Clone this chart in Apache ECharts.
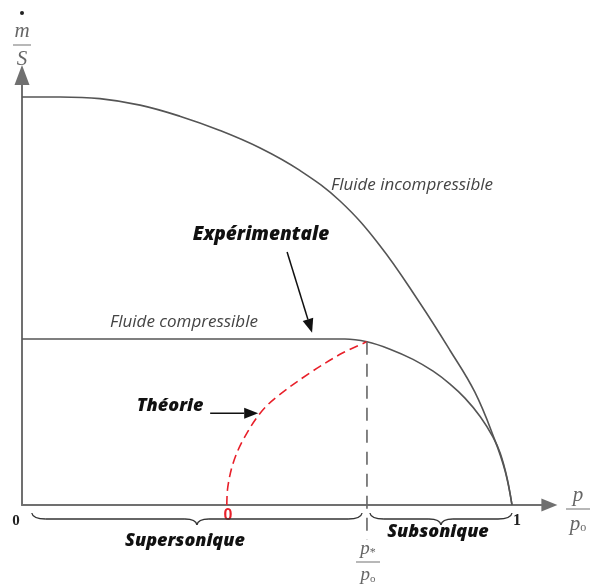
<!DOCTYPE html>
<html>
<head>
<meta charset="utf-8">
<script src="https://cdn.jsdelivr.net/npm/echarts@6/dist/echarts.min.js"></script>
<style>
  html, body { margin: 0; padding: 0; background: #fff; }
  #chart { width: 593px; height: 585px; }
</style>
</head>
<body>
<div id="chart"></div>
<script>
// Mass flux per unit area (m/S) versus pressure ratio p/p0, peak of the
// incompressible curve taken as 1.
const incompX = [0, 0.078, 0.159, 0.241, 0.322, 0.404, 0.486, 0.567, 0.649, 0.731, 0.812, 0.873, 0.924, 0.965, 0.986, 1.0];
const incompY = [1.0, 1.0, 0.996, 0.98, 0.953, 0.918, 0.875, 0.82, 0.745, 0.635, 0.495, 0.38, 0.277, 0.159, 0.083, 0];

// Measured (compressible) flow: choked plateau, then the subsonic branch
const compX = [0, 0.571, 0.659, 0.704, 0.751, 0.798, 0.839, 0.873, 0.904, 0.935, 0.961, 0.976, 0.99, 1.0];
const compY = [0.407, 0.407, 0.407, 0.4, 0.382, 0.357, 0.328, 0.297, 0.262, 0.217, 0.167, 0.127, 0.066, 0];

// Theoretical branch below the critical ratio
const theoryX = [0.418, 0.42, 0.431, 0.451, 0.486, 0.52, 0.588, 0.655, 0.704];
const theoryY = [0, 0.044, 0.103, 0.159, 0.225, 0.265, 0.324, 0.373, 0.4];

const criticalRatio = 0.704;     // p*/p0
const criticalFlow = 0.4;
const criticalLineBottom = -0.086;

// Braces under the axis: [from, to]
const braceRanges = [[0.02, 0.694], [0.71, 1.0]];

// Pointer arrows: [x from, y from, x to, y to]
const pointerArrows = [
  [0.541, 0.62, 0.592, 0.422],
  [0.384, 0.225, 0.482, 0.225]
];

const pair = (xs, ys) => xs.map((x, i) => [x, ys[i]]);

const chart = echarts.init(document.getElementById('chart'));

const curveColor = '#555';
const axisColor = '#707070';
const boldFont = 'italic 800 18px "Open Sans"';
const grayFont = 'italic 17px "Open Sans"';

const option = {
  animation: false,
  grid: { left: 22, top: 85, right: 51.6, bottom: 80 },
  xAxis: {
    type: 'value', min: 0, max: 1.06,
    splitLine: { show: false }, axisTick: { show: false }, axisLabel: { show: false },
    axisLine: {
      show: true, onZero: false,
      symbol: ['none', 'triangle'], symbolSize: [13, 16], symbolOffset: [0, 8],
      lineStyle: { color: axisColor, width: 2 }
    }
  },
  yAxis: {
    type: 'value', min: 0, max: 1.0294,
    splitLine: { show: false }, axisTick: { show: false }, axisLabel: { show: false },
    axisLine: {
      show: true, onZero: false,
      symbol: ['none', 'triangle'], symbolSize: [15, 20], symbolOffset: [0, 10],
      lineStyle: { color: axisColor, width: 2 }
    }
  },
  series: [
    {
      name: 'Fluide incompressible', type: 'line', data: pair(incompX, incompY),
      smooth: 0.4, symbol: 'none',
      lineStyle: { color: curveColor, width: 1.6 }
    },
    {
      name: 'Fluide compressible', type: 'line', data: pair(compX, compY),
      smooth: 0.35, symbol: 'none',
      lineStyle: { color: curveColor, width: 1.6 }
    },
    {
      name: 'Théorie', type: 'line', data: pair(theoryX, theoryY),
      smooth: 0.35, symbol: 'none',
      lineStyle: { color: '#e8202a', width: 1.6, type: [9, 5] }
    },
    {
      name: 'p*/p0', type: 'line', clip: false,
      data: [[criticalRatio, criticalFlow], [criticalRatio, criticalLineBottom]],
      symbol: 'none',
      lineStyle: { color: '#666', width: 1.6, type: [13, 9] }
    },
    {
      // curly braces below the axis
      type: 'custom', clip: false, silent: true,
      data: braceRanges,
      encode: { x: [0, 1] },
      renderItem: function (params, api) {
        const a = api.coord([api.value(0), 0]);
        const b = api.coord([api.value(1), 0]);
        const top = a[1] + 8, flat = a[1] + 14, tip = a[1] + 20;
        const mid = (a[0] + b[0]) / 2;
        const st = { stroke: '#333', fill: null, lineWidth: 1.3 };
        return {
          type: 'group',
          children: [
            { type: 'bezierCurve', shape: { x1: a[0], y1: top, cpx1: a[0] + 1, cpy1: flat, x2: a[0] + 14, y2: flat }, style: st },
            { type: 'line', shape: { x1: a[0] + 14, y1: flat, x2: mid - 12, y2: flat }, style: st },
            { type: 'bezierCurve', shape: { x1: mid - 12, y1: flat, cpx1: mid - 1, cpy1: flat, x2: mid, y2: tip }, style: st },
            { type: 'bezierCurve', shape: { x1: mid, y1: tip, cpx1: mid + 1, cpy1: flat, x2: mid + 12, y2: flat }, style: st },
            { type: 'line', shape: { x1: mid + 12, y1: flat, x2: b[0] - 14, y2: flat }, style: st },
            { type: 'bezierCurve', shape: { x1: b[0] - 14, y1: flat, cpx1: b[0] - 1, cpy1: flat, x2: b[0], y2: top }, style: st }
          ]
        };
      }
    },
    {
      // pointer arrows for the annotations
      type: 'custom', clip: false, silent: true,
      data: pointerArrows,
      encode: { x: [0, 2], y: [1, 3] },
      renderItem: function (params, api) {
        const p1 = api.coord([api.value(0), api.value(1)]);
        const p2 = api.coord([api.value(2), api.value(3)]);
        const dx = p2[0] - p1[0], dy = p2[1] - p1[1];
        const len = Math.sqrt(dx * dx + dy * dy);
        const ux = dx / len, uy = dy / len;
        const hl = 14, hw = 5.5;
        const bx = p2[0] - ux * hl, by = p2[1] - uy * hl;
        return {
          type: 'group',
          children: [
            { type: 'line', shape: { x1: p1[0], y1: p1[1], x2: bx, y2: by }, style: { stroke: '#111', lineWidth: 1.5 } },
            { type: 'polygon', shape: { points: [[p2[0], p2[1]], [bx - uy * hw, by + ux * hw], [bx + uy * hw, by - ux * hw]] }, style: { fill: '#111' } }
          ]
        };
      }
    }
  ],
  graphic: [
    // m-dot / S on the vertical axis
    { type: 'circle', shape: { cx: 22, cy: 13, r: 2 }, style: { fill: '#222' } },
    { type: 'text', x: 22, y: 31, style: { text: 'm', font: 'italic 21px "Liberation Serif"', fill: '#666', align: 'center', verticalAlign: 'middle' } },
    { type: 'line', shape: { x1: 13, y1: 45, x2: 31, y2: 45 }, style: { stroke: '#888', lineWidth: 1.2 } },
    { type: 'text', x: 22, y: 59, style: { text: 'S', font: 'italic 21px "Liberation Serif"', fill: '#666', align: 'center', verticalAlign: 'middle' } },

    // p / p0 on the horizontal axis
    { type: 'text', x: 578, y: 495, style: { text: 'p', font: 'italic 21px "Liberation Serif"', fill: '#666', align: 'center', verticalAlign: 'middle' } },
    { type: 'line', shape: { x1: 566, y1: 509, x2: 590, y2: 509 }, style: { stroke: '#888', lineWidth: 1.2 } },
    { type: 'text', x: 578, y: 524, style: { text: '{p|p}{s|o}', align: 'center', verticalAlign: 'middle',
      rich: { p: { font: 'italic 21px "Liberation Serif"', fill: '#666' }, s: { font: '12px "Liberation Serif"', fill: '#666', padding: [8, 0, 0, 0] } } } },

    // p* / p0 under the critical line
    { type: 'text', x: 368, y: 549, style: { text: '{p|p}{s|*}', align: 'center', verticalAlign: 'middle',
      rich: { p: { font: 'italic 19px "Liberation Serif"', fill: '#666' }, s: { font: '12px "Liberation Serif"', fill: '#666', padding: [8, 0, 0, 0] } } } },
    { type: 'line', shape: { x1: 356, y1: 562, x2: 380, y2: 562 }, style: { stroke: '#888', lineWidth: 1.2 } },
    { type: 'text', x: 368, y: 575, style: { text: '{p|p}{s|o}', align: 'center', verticalAlign: 'middle',
      rich: { p: { font: 'italic 19px "Liberation Serif"', fill: '#666' }, s: { font: '11px "Liberation Serif"', fill: '#666', padding: [8, 0, 0, 0] } } } },

    // axis values
    { type: 'text', x: 16, y: 521, style: { text: '0', font: 'bold 15px "Liberation Serif"', fill: '#222', align: 'center', verticalAlign: 'middle' } },
    { type: 'text', x: 517, y: 521, style: { text: '1', font: 'bold 16px "Liberation Serif"', fill: '#222', align: 'center', verticalAlign: 'middle' } },
    { type: 'text', x: 228, y: 516, style: { text: '0', font: 'bold 16px "Liberation Sans"', fill: '#e8202a', align: 'center', verticalAlign: 'middle' } },

    // curve labels
    { type: 'text', x: 412, y: 185, style: { text: 'Fluide incompressible', font: grayFont, fill: '#444', align: 'center', verticalAlign: 'middle' } },
    { type: 'text', x: 184, y: 322, style: { text: 'Fluide compressible', font: grayFont, fill: '#444', align: 'center', verticalAlign: 'middle' } },
    { type: 'text', x: 261, y: 235, style: { text: 'Expérimentale', font: 'italic 800 19px "Open Sans"', fill: '#111', align: 'center', verticalAlign: 'middle' } },
    { type: 'text', x: 170, y: 406, style: { text: 'Théorie', font: boldFont, fill: '#111', align: 'center', verticalAlign: 'middle' } },
    { type: 'text', x: 185, y: 541, style: { text: 'Supersonique', font: boldFont, fill: '#111', align: 'center', verticalAlign: 'middle' } },
    { type: 'text', x: 438, y: 532, style: { text: 'Subsonique', font: boldFont, fill: '#111', align: 'center', verticalAlign: 'middle' } }
  ]
};

chart.setOption(option);
</script>
</body>
</html>
